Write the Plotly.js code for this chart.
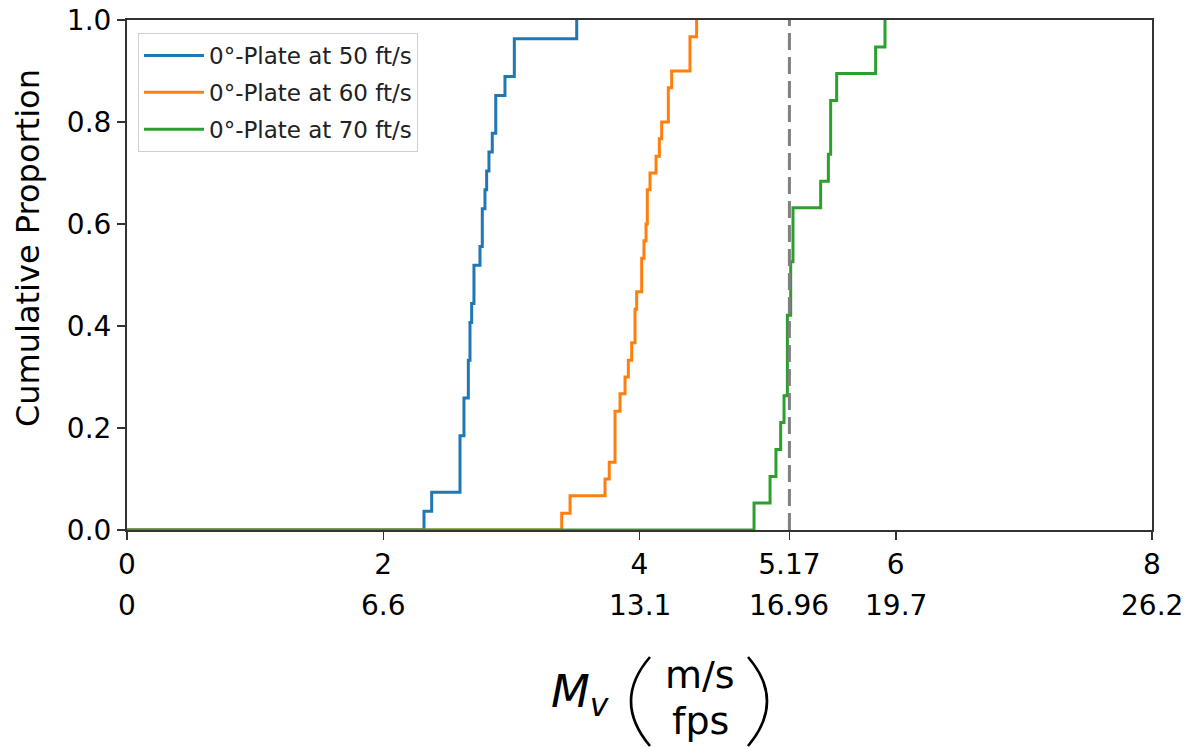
<!DOCTYPE html>
<html>
<head>
<meta charset="utf-8">
<script src="https://cdn.plot.ly/plotly-3.0.1.min.js"></script>
<style>html,body{margin:0;padding:0;background:#fff;}#chart{width:1195px;height:747px;}</style>
</head>
<body>
<div id="chart"></div>
<script>
// ---- data (ECDF step positions, Mv in m/s) ----
const seriesNames = ["0°-Plate at 50 ft/s", "0°-Plate at 60 ft/s", "0°-Plate at 70 ft/s"];
const seriesColors = ["#1f77b4", "#ff7f0e", "#2ca02c"];

const steps50 = [2.318, 2.378, 2.599, 2.630, 2.664, 2.677, 2.690, 2.708, 2.755, 2.773, 2.794, 2.807, 2.825, 2.851, 2.878, 2.950, 3.023, 3.510];
const prop50  = [0.037, 0.074, 0.185, 0.259, 0.333, 0.407, 0.444, 0.519, 0.556, 0.630, 0.667, 0.704, 0.741, 0.778, 0.852, 0.889, 0.963, 1.000];

const steps60 = [3.393, 3.458, 3.731, 3.764, 3.809, 3.848, 3.887, 3.913, 3.939, 3.965, 3.978, 4.017, 4.035, 4.051, 4.061, 4.082, 4.129, 4.155, 4.173, 4.225, 4.251, 4.394, 4.446];
const prop60  = [0.033, 0.067, 0.100, 0.133, 0.233, 0.267, 0.300, 0.333, 0.367, 0.433, 0.467, 0.533, 0.567, 0.600, 0.667, 0.700, 0.733, 0.767, 0.800, 0.867, 0.900, 0.967, 1.000];

const steps70 = [4.894, 5.019, 5.065, 5.102, 5.128, 5.154, 5.180, 5.198, 5.414, 5.474, 5.492, 5.539, 5.843, 5.916];
const prop70  = [0.053, 0.105, 0.158, 0.211, 0.263, 0.421, 0.526, 0.632, 0.684, 0.737, 0.842, 0.895, 0.947, 1.000];

const refLineX = 5.17;

const tickValsX = [0, 2, 4, 5.17, 6, 8];
const tickTextMs = ["0", "2", "4", "5.17", "6", "8"];
const tickTextFps = ["0", "6.6", "13.1", "16.96", "19.7", "26.2"];
const tickValsY = [0, 0.2, 0.4, 0.6, 0.8, 1.0];

const xRange = [0, 8];
const yRange = [0, 1];

// ---- build traces ----
function ecdfTrace(steps, props, name, color) {
  return {
    type: "scatter",
    mode: "lines",
    name: name,
    legendgroup: name,
    x: [xRange[0]].concat(steps),
    y: [0].concat(props),
    line: {shape: "hv", color: color, width: 3}
  };
}
const traces = [
  ecdfTrace(steps50, prop50, seriesNames[0], seriesColors[0]),
  ecdfTrace(steps60, prop60, seriesNames[1], seriesColors[1]),
  ecdfTrace(steps70, prop70, seriesNames[2], seriesColors[2])
];

// pixel -> paper helpers for label decoration
const L = 127, T = 20, W = 1025, H = 510;
const px = v => (v - L) / W;
const py = v => (T + H - v) / H;

const annotations = tickValsX.map((v, i) => ({
  x: v, xref: "x", y: py(605), yref: "paper",
  text: tickTextFps[i], showarrow: false,
  xanchor: "center", yanchor: "middle",
  font: {family: "DejaVu Sans", size: 28, color: "#000"}
}));
annotations.push(
  {x: px(28), y: py(248), xref: "paper", yref: "paper", showarrow: false,
   text: "Cumulative Proportion", textangle: -90, xanchor: "center", yanchor: "middle",
   font: {family: "DejaVu Sans", size: 32, color: "#000"}},
  {x: px(580), y: py(694), xref: "paper", yref: "paper", showarrow: false,
   text: "<i>M</i><sub><i>v</i></sub>", xanchor: "center", yanchor: "middle",
   font: {family: "DejaVu Sans", size: 45, color: "#000"}},
  {x: px(700), y: py(675), xref: "paper", yref: "paper", showarrow: false,
   text: "m/s", xanchor: "center", yanchor: "middle",
   font: {family: "DejaVu Sans", size: 38, color: "#000"}},
  {x: px(700), y: py(721), xref: "paper", yref: "paper", showarrow: false,
   text: "fps", xanchor: "center", yanchor: "middle",
   font: {family: "DejaVu Sans", size: 38, color: "#000"}}
);

const shapes = [
  {type: "line", xref: "x", yref: "y", x0: refLineX, x1: refLineX, y0: yRange[0], y1: yRange[1],
   line: {color: "#808080", width: 3, dash: "17px,7px"}, layer: "above"},
  {type: "path", xref: "paper", yref: "paper",
   path: `M ${px(650)} ${py(657)} Q ${px(612)} ${py(701)} ${px(650)} ${py(746)}`,
   line: {color: "#000", width: 2.6}},
  {type: "path", xref: "paper", yref: "paper",
   path: `M ${px(748)} ${py(657)} Q ${px(786)} ${py(701)} ${px(748)} ${py(746)}`,
   line: {color: "#000", width: 2.6}}
];

const layout = {
  width: 1195, height: 747,
  margin: {l: 127, r: 43, t: 20, b: 217, pad: 0},
  paper_bgcolor: "#fff", plot_bgcolor: "#fff",
  showlegend: true,
  legend: {
    x: px(138), y: py(33), xanchor: "left", yanchor: "top",
    bgcolor: "rgba(255,255,255,0.85)", bordercolor: "#d0d0d0", borderwidth: 1,
    font: {family: "DejaVu Sans", size: 23, color: "#222"},
    tracegroupgap: 4, itemwidth: 60
  },
  xaxis: {
    range: xRange, showgrid: false, zeroline: false,
    showline: true, mirror: true, linecolor: "#333", linewidth: 2,
    ticks: "outside", ticklen: 8, tickwidth: 1.5, tickcolor: "#333",
    tickmode: "array", tickvals: tickValsX, ticktext: tickTextMs,
    tickfont: {family: "DejaVu Sans", size: 28, color: "#000"},
    automargin: false
  },
  yaxis: {
    range: yRange, showgrid: false, zeroline: false,
    showline: true, mirror: true, linecolor: "#333", linewidth: 2,
    ticks: "outside", ticklen: 8, tickwidth: 1.5, tickcolor: "#333",
    tickmode: "array", tickvals: tickValsY, tickformat: ".1f",
    tickfont: {family: "DejaVu Sans", size: 28, color: "#000"},
    automargin: false
  },
  annotations: annotations,
  shapes: shapes
};

Plotly.newPlot("chart", traces, layout, {displayModeBar: false, staticPlot: true});
</script>
</body>
</html>
